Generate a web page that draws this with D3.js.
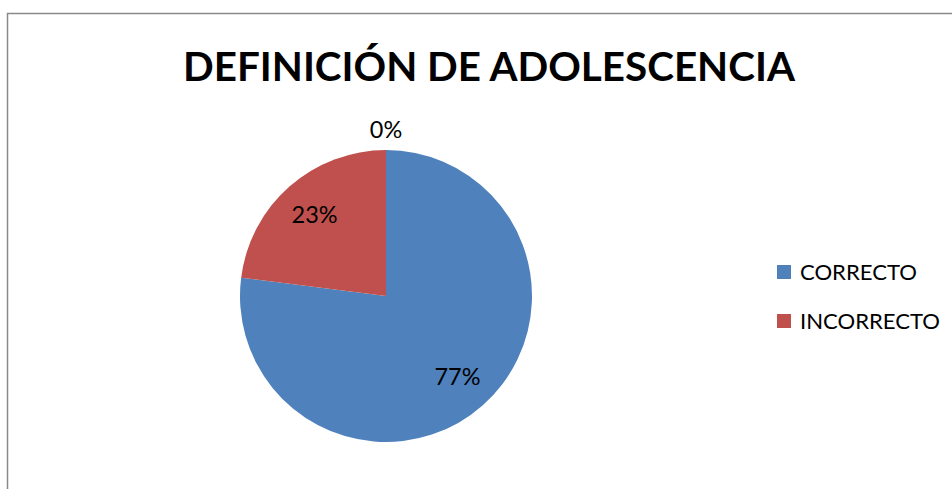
<!DOCTYPE html>
<html>
<head>
<meta charset="utf-8">
<script src="https://cdn.jsdelivr.net/npm/d3@7"></script>
<style>
  body { margin: 0; background: #fff; }
  svg { display: block; }
  text { font-family: Lato, "Open Sans", sans-serif; fill: #000; }
</style>
</head>
<body>
<svg id="chart"></svg>
<script>
// chart data
const categories = ["CORRECTO", "INCORRECTO", ""];
const values = [77, 23, 0];
const colors = ["#4F81BD", "#C0504D", "#9BBB59"];
const legendItems = ["CORRECTO", "INCORRECTO"];
const titleText = "DEFINICIÓN DE ADOLESCENCIA";

const width = 952, height = 489;
const cx = 386, cy = 296, radius = 146;

const svg = d3.select("#chart")
    .attr("width", width)
    .attr("height", height);

// scale a text's font so it spans the given width
function fitText(sel, target) {
    const w = sel.node().getComputedTextLength();
    const fs = parseFloat(sel.style("font-size"));
    return fs * target / w;
}

// chart area border (only top and left visible in the crop)
svg.append("rect")
    .attr("x", 7.5)
    .attr("y", 13.5)
    .attr("width", width + 20)
    .attr("height", height + 20)
    .attr("fill", "#fff")
    .attr("stroke", "#8a8a8a")
    .attr("stroke-width", 1.5);

// title
const title = svg.append("text")
    .attr("x", 489)
    .attr("y", 81)
    .attr("text-anchor", "middle")
    .style("font-weight", "bold")
    .style("font-size", "40px")
    .text(titleText);
title.style("font-size", fitText(title, 612) + "px");

const data = categories.map((c, i) => ({name: c, value: values[i], color: colors[i]}));

const pie = d3.pie()
    .sort(null)
    .value(d => d.value);

const arc = d3.arc()
    .innerRadius(0)
    .outerRadius(radius);

const labelArc = d3.arc()
    .innerRadius(radius * 0.74)
    .outerRadius(radius * 0.74);

const outsideArc = d3.arc()
    .innerRadius(radius + 20)
    .outerRadius(radius + 20);

const chart = svg.append("g")
    .attr("transform", `translate(${cx},${cy})`);

const arcs = pie(data);

chart.selectAll(".slice")
    .data(arcs.filter(d => d.data.value > 0))
    .join("path")
    .attr("class", "slice")
    .attr("d", arc)
    .attr("fill", d => d.data.color);

const pct = chart.selectAll(".pct")
    .data(arcs)
    .join("text")
    .attr("class", "pct")
    .attr("transform", d => {
        const p = d.data.value > 0 ? labelArc.centroid(d) : outsideArc.centroid(d);
        return `translate(${p[0]},${p[1]})`;
    })
    .attr("text-anchor", "middle")
    .attr("dy", "0.36em")
    .style("font-size", "20px")
    .text(d => d3.format(".0f")(d.data.value) + "%");
const pctSize = fitText(pct.filter((d, i) => i === 0), 46);
pct.style("font-size", pctSize + "px");

// legend
const legendY = d3.scalePoint()
    .domain(legendItems)
    .range([272, 321]);

const legend = svg.append("g");

const li = legend.selectAll(".legend-item")
    .data(legendItems)
    .join("g")
    .attr("class", "legend-item")
    .attr("transform", d => `translate(777,${legendY(d)})`);

li.append("rect")
    .attr("x", 0)
    .attr("y", -7)
    .attr("width", 14)
    .attr("height", 14)
    .attr("fill", (d, i) => colors[i]);

const lt = li.append("text")
    .attr("x", 23)
    .attr("dy", "0.36em")
    .style("font-size", "19px")
    .text(d => d);
const ltSize = fitText(lt.filter((d, i) => i === 0), 117);
lt.style("font-size", ltSize + "px");
</script>
</body>
</html>
